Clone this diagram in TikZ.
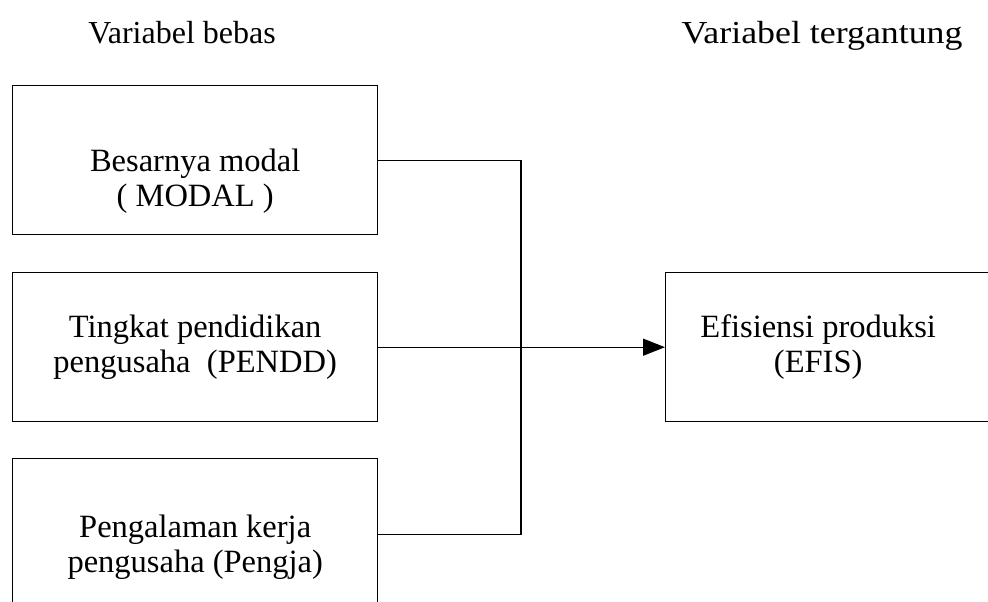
\documentclass[tikz,border=0pt]{standalone}
\usepackage{fontspec}
\setmainfont{Liberation Serif}
\usetikzlibrary{
  arrows.meta,
  positioning
}
\tikzset{>={Triangle[length=22pt,width=17pt]}}
\tikzset{
  varbox/.style={draw,line width=1.4pt,align=center,anchor=north west,
    minimum width=365pt,minimum height=149pt,
    font=\fontsize{32.5}{35}\selectfont},
  vartext/.style={align=center,font=\fontsize{32.5}{35}\selectfont},
  head/.style={anchor=base,font=\fontsize{32}{36}\selectfont},
  conn/.style={line width=1.4pt}
}

\begin{document}
\begin{tikzpicture}[x=1pt,y=-1pt]
\useasboundingbox (0,0) rectangle (988,602);
\clip (0,0) rectangle (988,602);
\node[head] (hbebas) at (182,44) {Variabel bebas};
\node[head,xscale=1.12,transform shape] (htergantung) at (822,44) {Variabel tergantung};
\node[varbox] (modal) at (12,85) {};
\node[vartext] (modaltext) at ([yshift=-21pt]modal.center) {Besarnya modal\\( MODAL )};
\node[varbox] (pendd) at (12,272) {Tingkat pendidikan\\pengusaha~~(PENDD)};
\node[varbox,minimum height=178pt] (pengja) at (12,458) {Pengalaman kerja\\pengusaha (Pengja)};
\node[varbox,minimum width=325pt] (efis) at (665,272) {};
\node[vartext] (efistext) at ([xshift=-10pt]efis.center) {Efisiensi produksi\\(EFIS)};
\coordinate (join) at (521,346.5);
\draw[conn] (modal.east) -| (join) |- ([yshift=13pt]pengja.east);
\draw[conn,->] (pendd.east) -- (efis.west);
\end{tikzpicture}
\end{document}
